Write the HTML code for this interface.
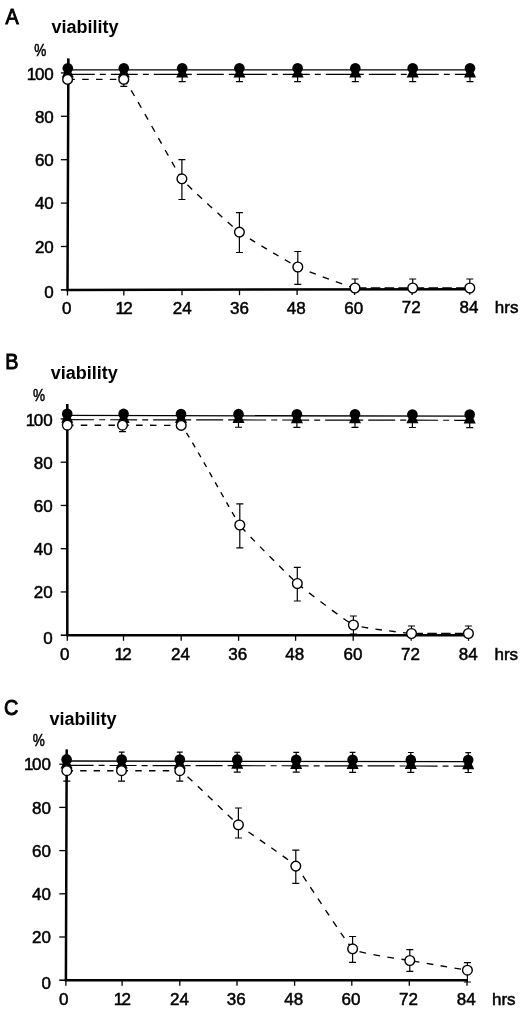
<!DOCTYPE html>
<html><head><meta charset="utf-8"><title>viability</title>
<style>
html,body{margin:0;padding:0;background:#fff;}
body{width:520px;height:1010px;overflow:hidden;font-family:"Liberation Sans", sans-serif;}
svg{display:block;filter:grayscale(1);}
text{font-family:"Liberation Sans", sans-serif;fill:#000;}
.n{font-size:17px;stroke:#000;stroke-width:0.5px;}
.v{font-size:18px;font-weight:bold;}
.L{font-size:22.5px;stroke:#000;stroke-width:1px;}
</style></head><body>
<svg width="520" height="1010" viewBox="0 0 520 1010">
<rect width="520" height="1010" fill="#fff"/>
<path d="M68.4 58.5L67.5 289.9L470.4 289.2" fill="none" stroke="#000" stroke-width="2.5" stroke-linejoin="miter"/>
<line x1="60.9" y1="246.5" x2="67.5" y2="246.5" stroke="#000" stroke-width="1.3"/>
<line x1="60.9" y1="203.1" x2="67.5" y2="203.1" stroke="#000" stroke-width="1.3"/>
<line x1="60.9" y1="159.7" x2="67.5" y2="159.7" stroke="#000" stroke-width="1.3"/>
<line x1="60.9" y1="116.3" x2="67.5" y2="116.3" stroke="#000" stroke-width="1.3"/>
<line x1="60.9" y1="72.9" x2="67.5" y2="72.9" stroke="#000" stroke-width="1.3"/>
<line x1="60.9" y1="289.9" x2="67.5" y2="289.9" stroke="#000" stroke-width="1.6"/>
<line x1="67.5" y1="289.9" x2="67.5" y2="295.5" stroke="#000" stroke-width="1.3"/>
<line x1="123.8" y1="289.8" x2="123.8" y2="295.4" stroke="#000" stroke-width="1.3"/>
<line x1="182" y1="289.7" x2="182" y2="295.3" stroke="#000" stroke-width="1.3"/>
<line x1="239.5" y1="289.6" x2="239.5" y2="295.2" stroke="#000" stroke-width="1.3"/>
<line x1="297.1" y1="289.5" x2="297.1" y2="295.1" stroke="#000" stroke-width="1.3"/>
<line x1="354.6" y1="289.4" x2="354.6" y2="295" stroke="#000" stroke-width="1.3"/>
<line x1="412.1" y1="289.3" x2="412.1" y2="294.9" stroke="#000" stroke-width="1.3"/>
<line x1="469.8" y1="289.2" x2="469.8" y2="294.8" stroke="#000" stroke-width="1.3"/>
<text class="n" x="53.8" y="298.4" text-anchor="end">0</text>
<text class="n" x="53.8" y="252.8" text-anchor="end">20</text>
<text class="n" x="53.8" y="209.4" text-anchor="end">40</text>
<text class="n" x="53.8" y="166" text-anchor="end">60</text>
<text class="n" x="53.8" y="122.6" text-anchor="end">80</text>
<text class="n" x="53.8" y="80" text-anchor="end">1<tspan dx="-1.4">00</tspan></text>
<text class="n" x="66.7" y="314" text-anchor="middle">0</text>
<text class="n" x="124.2" y="313.9" text-anchor="middle">1<tspan dx="-1.7">2</tspan></text>
<text class="n" x="182.2" y="313.8" text-anchor="middle">24</text>
<text class="n" x="239.5" y="313.7" text-anchor="middle">36</text>
<text class="n" x="296.3" y="313.6" text-anchor="middle">48</text>
<text class="n" x="353.8" y="313.5" text-anchor="middle">60</text>
<text class="n" x="411.3" y="313.4" text-anchor="middle">72</text>
<text class="n" x="469" y="313.3" text-anchor="middle">84</text>
<text class="n" x="494.8" y="313.3">hrs</text>
<text class="n" transform="translate(34.3 55.5) scale(0.8 1)">%</text>
<text class="v" x="51.5" y="33.2">viability</text>
<text class="L" transform="translate(5.4 23.6) scale(0.88 1)">A</text>
<line x1="67.8" y1="69.9" x2="470" y2="69.9" stroke="#000" stroke-width="1.3"/>
<line x1="67.8" y1="74.4" x2="470" y2="74.4" stroke="#000" stroke-width="1.2" stroke-dasharray="27 5 6 5" stroke-dashoffset="0"/>
<path d="M67.6 79.4L123.8 79.4" fill="none" stroke="#000" stroke-width="1.35" stroke-dasharray="6.5 7.3" stroke-dashoffset="13"/>
<path d="M123.8 79.4C129.51 84.37 176.12 171.17 181.9 178.8" fill="none" stroke="#000" stroke-width="1.35" stroke-dasharray="6.45 7.25" stroke-dashoffset="0.4"/>
<path d="M181.9 178.8C187.68 186.44 233.61 227.69 239.4 232.1" fill="none" stroke="#000" stroke-width="1.35" stroke-dasharray="6.41 7.19" stroke-dashoffset="5.2"/>
<path d="M239.4 232.1C245.19 236.51 292.02 264.2 297.8 267" fill="none" stroke="#000" stroke-width="1.35" stroke-dasharray="6.36 7.14" stroke-dashoffset="1"/>
<path d="M297.8 267C303.58 269.8 349.25 286.95 355 288" fill="none" stroke="#000" stroke-width="1.35" stroke-dasharray="6.55 7.35" stroke-dashoffset="1"/>
<path d="M355 288L412.7 288" fill="none" stroke="#000" stroke-width="1.35" stroke-dasharray="9.5 4.3" stroke-dashoffset="11.8"/>
<path d="M412.7 288L469.8 288" fill="none" stroke="#000" stroke-width="1.35" stroke-dasharray="9.5 4.3" stroke-dashoffset="11.8"/>
<path d="M182.2 74V81.7M178.7 81.7H185.7" fill="none" stroke="#000" stroke-width="1.2"/>
<path d="M239.4 74V81.7M235.9 81.7H242.9" fill="none" stroke="#000" stroke-width="1.2"/>
<path d="M297.6 74V81.7M294.1 81.7H301.1" fill="none" stroke="#000" stroke-width="1.2"/>
<path d="M355.3 74V81.7M351.8 81.7H358.8" fill="none" stroke="#000" stroke-width="1.2"/>
<path d="M412.7 74V81.7M409.2 81.7H416.2" fill="none" stroke="#000" stroke-width="1.2"/>
<path d="M470 74V81.7M466.5 81.7H473.5" fill="none" stroke="#000" stroke-width="1.2"/>
<path d="M67.8 64.4L73.8 77.5H61.8Z" fill="#000"/>
<path d="M123.8 64.4L129.8 77.5H117.8Z" fill="#000"/>
<path d="M182.2 64.4L188.2 77.5H176.2Z" fill="#000"/>
<path d="M239.4 64.4L245.4 77.5H233.4Z" fill="#000"/>
<path d="M297.6 64.4L303.6 77.5H291.6Z" fill="#000"/>
<path d="M355.3 64.4L361.3 77.5H349.3Z" fill="#000"/>
<path d="M412.7 64.4L418.7 77.5H406.7Z" fill="#000"/>
<path d="M470 64.4L476 77.5H464Z" fill="#000"/>
<path d="M67.8 58.5V70" fill="none" stroke="#000" stroke-width="1.2"/>
<circle cx="67.8" cy="68.3" r="5.3" fill="#000"/>
<circle cx="123.8" cy="68.3" r="5.3" fill="#000"/>
<circle cx="182.2" cy="68.3" r="5.3" fill="#000"/>
<circle cx="239.4" cy="68.3" r="5.3" fill="#000"/>
<circle cx="297.6" cy="68.3" r="5.3" fill="#000"/>
<circle cx="355.3" cy="68.3" r="5.3" fill="#000"/>
<circle cx="412.7" cy="68.3" r="5.3" fill="#000"/>
<circle cx="470" cy="68.3" r="5.3" fill="#000"/>
<path d="M123.8 79.4V86.3M120.3 79.4H127.3M120.3 86.3H127.3" fill="none" stroke="#000" stroke-width="1.2"/>
<path d="M181.9 159.7V199.5M178.4 159.7H185.4M178.4 199.5H185.4" fill="none" stroke="#000" stroke-width="1.2"/>
<path d="M239.4 212.7V252.5M235.9 212.7H242.9M235.9 252.5H242.9" fill="none" stroke="#000" stroke-width="1.2"/>
<path d="M297.8 251.5V284.3M294.3 251.5H301.3M294.3 284.3H301.3" fill="none" stroke="#000" stroke-width="1.2"/>
<path d="M355 279V290M351.5 279H358.5M351.5 290H358.5" fill="none" stroke="#000" stroke-width="1.2"/>
<path d="M412.7 279V290M409.2 279H416.2M409.2 290H416.2" fill="none" stroke="#000" stroke-width="1.2"/>
<path d="M469.8 279V290M466.3 279H473.3M466.3 290H473.3" fill="none" stroke="#000" stroke-width="1.2"/>
<circle cx="67.6" cy="79.4" r="4.85" fill="#fff" stroke="#000" stroke-width="1.4"/>
<circle cx="123.8" cy="79.4" r="4.85" fill="#fff" stroke="#000" stroke-width="1.4"/>
<circle cx="181.9" cy="178.8" r="4.85" fill="#fff" stroke="#000" stroke-width="1.4"/>
<circle cx="239.4" cy="232.1" r="4.85" fill="#fff" stroke="#000" stroke-width="1.4"/>
<circle cx="297.8" cy="267" r="4.85" fill="#fff" stroke="#000" stroke-width="1.4"/>
<circle cx="355" cy="288" r="4.85" fill="#fff" stroke="#000" stroke-width="1.4"/>
<circle cx="412.7" cy="288" r="4.85" fill="#fff" stroke="#000" stroke-width="1.4"/>
<circle cx="469.8" cy="288" r="4.85" fill="#fff" stroke="#000" stroke-width="1.4"/>
<path d="M67.3 404L67.3 635.2L469.1 635.2" fill="none" stroke="#000" stroke-width="2.5" stroke-linejoin="miter"/>
<line x1="60.7" y1="591.95" x2="67.3" y2="591.95" stroke="#000" stroke-width="1.3"/>
<line x1="60.7" y1="548.7" x2="67.3" y2="548.7" stroke="#000" stroke-width="1.3"/>
<line x1="60.7" y1="505.45" x2="67.3" y2="505.45" stroke="#000" stroke-width="1.3"/>
<line x1="60.7" y1="462.2" x2="67.3" y2="462.2" stroke="#000" stroke-width="1.3"/>
<line x1="60.7" y1="418.95" x2="67.3" y2="418.95" stroke="#000" stroke-width="1.3"/>
<line x1="60.7" y1="635.2" x2="67.3" y2="635.2" stroke="#000" stroke-width="1.6"/>
<line x1="67.3" y1="635.2" x2="67.3" y2="640.8" stroke="#000" stroke-width="1.3"/>
<line x1="123.5" y1="635.2" x2="123.5" y2="640.8" stroke="#000" stroke-width="1.3"/>
<line x1="181.2" y1="635.2" x2="181.2" y2="640.8" stroke="#000" stroke-width="1.3"/>
<line x1="238.6" y1="635.2" x2="238.6" y2="640.8" stroke="#000" stroke-width="1.3"/>
<line x1="295.6" y1="635.2" x2="295.6" y2="640.8" stroke="#000" stroke-width="1.3"/>
<line x1="353.2" y1="635.2" x2="353.2" y2="640.8" stroke="#000" stroke-width="1.3"/>
<line x1="411.2" y1="635.2" x2="411.2" y2="640.8" stroke="#000" stroke-width="1.3"/>
<line x1="468.5" y1="635.2" x2="468.5" y2="640.8" stroke="#000" stroke-width="1.3"/>
<text class="n" x="52.7" y="643.7" text-anchor="end">0</text>
<text class="n" x="52.7" y="598.25" text-anchor="end">20</text>
<text class="n" x="52.7" y="555" text-anchor="end">40</text>
<text class="n" x="52.7" y="511.75" text-anchor="end">60</text>
<text class="n" x="52.7" y="468.5" text-anchor="end">80</text>
<text class="n" x="52.7" y="426.05" text-anchor="end">1<tspan dx="-1.4">00</tspan></text>
<text class="n" x="64.8" y="660" text-anchor="middle">0</text>
<text class="n" x="123.2" y="660" text-anchor="middle">1<tspan dx="-1.7">2</tspan></text>
<text class="n" x="180.4" y="660" text-anchor="middle">24</text>
<text class="n" x="237.8" y="660" text-anchor="middle">36</text>
<text class="n" x="294.8" y="660" text-anchor="middle">48</text>
<text class="n" x="352.9" y="660" text-anchor="middle">60</text>
<text class="n" x="410.4" y="660" text-anchor="middle">72</text>
<text class="n" x="468.2" y="660" text-anchor="middle">84</text>
<text class="n" x="494.5" y="660">hrs</text>
<text class="n" transform="translate(33.1 401.4) scale(0.8 1)">%</text>
<text class="v" x="50.8" y="379.2">viability</text>
<text class="L" transform="translate(5.2 369.4) scale(0.88 1)">B</text>
<line x1="67.2" y1="415.4" x2="469.7" y2="416.2" stroke="#000" stroke-width="1.3"/>
<line x1="67.2" y1="419.7" x2="469.7" y2="420.3" stroke="#000" stroke-width="1.2" stroke-dasharray="27 5 6 5" stroke-dashoffset="0"/>
<path d="M67.3 425.2L122.5 425.2" fill="none" stroke="#000" stroke-width="1.35" stroke-dasharray="6.5 7.3" stroke-dashoffset="0.3"/>
<path d="M122.5 425.2L181.2 425.4" fill="none" stroke="#000" stroke-width="1.35" stroke-dasharray="6.55 7.35" stroke-dashoffset="0.3"/>
<path d="M181.2 425.4C187.06 430.39 234 517.1 239.8 525" fill="none" stroke="#000" stroke-width="1.35" stroke-dasharray="5.37 6.03" stroke-dashoffset="2.1"/>
<path d="M239.8 525C245.61 532.9 291.62 578.5 297.3 583.5" fill="none" stroke="#000" stroke-width="1.35" stroke-dasharray="6.36 7.14" stroke-dashoffset="10.9"/>
<path d="M297.3 583.5C302.98 588.5 347.69 622.5 353.4 625" fill="none" stroke="#000" stroke-width="1.35" stroke-dasharray="6.69 7.51" stroke-dashoffset="13.2"/>
<path d="M353.4 625C359.11 627.5 405.75 633.08 411.5 633.5" fill="none" stroke="#000" stroke-width="1.35" stroke-dasharray="6.48 7.27" stroke-dashoffset="5"/>
<path d="M411.5 633.5L468.4 633.5" fill="none" stroke="#000" stroke-width="1.35" stroke-dasharray="9.5 4.3" stroke-dashoffset="11.8"/>
<path d="M181 419.17V427.17M177.5 427.17H184.5" fill="none" stroke="#000" stroke-width="1.2"/>
<path d="M238.5 419.26V427.26M235 427.26H242" fill="none" stroke="#000" stroke-width="1.2"/>
<path d="M296.9 419.34V427.34M293.4 427.34H300.4" fill="none" stroke="#000" stroke-width="1.2"/>
<path d="M355 419.43V427.43M351.5 427.43H358.5" fill="none" stroke="#000" stroke-width="1.2"/>
<path d="M412.4 419.51V427.51M408.9 427.51H415.9" fill="none" stroke="#000" stroke-width="1.2"/>
<path d="M469.7 419.6V427.6M466.2 427.6H473.2" fill="none" stroke="#000" stroke-width="1.2"/>
<path d="M67.2 409.7L73.2 422.8H61.2Z" fill="#000"/>
<path d="M123.6 409.78L129.6 422.88H117.6Z" fill="#000"/>
<path d="M181 409.87L187 422.97H175Z" fill="#000"/>
<path d="M238.5 409.96L244.5 423.06H232.5Z" fill="#000"/>
<path d="M296.9 410.04L302.9 423.14H290.9Z" fill="#000"/>
<path d="M355 410.13L361 423.23H349Z" fill="#000"/>
<path d="M412.4 410.21L418.4 423.31H406.4Z" fill="#000"/>
<path d="M469.7 410.3L475.7 423.4H463.7Z" fill="#000"/>
<path d="M67.2 404V415" fill="none" stroke="#000" stroke-width="1.2"/>
<circle cx="67.2" cy="413.8" r="5.3" fill="#000"/>
<circle cx="123.6" cy="413.91" r="5.3" fill="#000"/>
<circle cx="181" cy="414.03" r="5.3" fill="#000"/>
<circle cx="238.5" cy="414.14" r="5.3" fill="#000"/>
<circle cx="296.9" cy="414.26" r="5.3" fill="#000"/>
<circle cx="355" cy="414.37" r="5.3" fill="#000"/>
<circle cx="412.4" cy="414.49" r="5.3" fill="#000"/>
<circle cx="469.7" cy="414.6" r="5.3" fill="#000"/>
<path d="M122.5 425V431.7M119 425H126M119 431.7H126" fill="none" stroke="#000" stroke-width="1.2"/>
<path d="M239.8 503.8V547.9M236.3 503.8H243.3M236.3 547.9H243.3" fill="none" stroke="#000" stroke-width="1.2"/>
<path d="M297.3 567.4V601M293.8 567.4H300.8M293.8 601H300.8" fill="none" stroke="#000" stroke-width="1.2"/>
<path d="M353.4 616V634M349.9 616H356.9M349.9 634H356.9" fill="none" stroke="#000" stroke-width="1.2"/>
<path d="M411.5 626V635M408 626H415M408 635H415" fill="none" stroke="#000" stroke-width="1.2"/>
<path d="M468.4 626V635M464.9 626H471.9M464.9 635H471.9" fill="none" stroke="#000" stroke-width="1.2"/>
<circle cx="67.3" cy="425.2" r="4.85" fill="#fff" stroke="#000" stroke-width="1.4"/>
<circle cx="122.5" cy="425.2" r="4.85" fill="#fff" stroke="#000" stroke-width="1.4"/>
<circle cx="181.2" cy="425.4" r="4.85" fill="#fff" stroke="#000" stroke-width="1.4"/>
<circle cx="239.8" cy="525" r="4.85" fill="#fff" stroke="#000" stroke-width="1.4"/>
<circle cx="297.3" cy="583.5" r="4.85" fill="#fff" stroke="#000" stroke-width="1.4"/>
<circle cx="353.4" cy="625" r="4.85" fill="#fff" stroke="#000" stroke-width="1.4"/>
<circle cx="411.5" cy="633.5" r="4.85" fill="#fff" stroke="#000" stroke-width="1.4"/>
<circle cx="468.4" cy="633.5" r="4.85" fill="#fff" stroke="#000" stroke-width="1.4"/>
<path d="M66.7 749.5L65.9 980.2L467.6 980.2" fill="none" stroke="#000" stroke-width="2.5" stroke-linejoin="miter"/>
<line x1="59.3" y1="937" x2="65.9" y2="937" stroke="#000" stroke-width="1.3"/>
<line x1="59.3" y1="893.8" x2="65.9" y2="893.8" stroke="#000" stroke-width="1.3"/>
<line x1="59.3" y1="850.6" x2="65.9" y2="850.6" stroke="#000" stroke-width="1.3"/>
<line x1="59.3" y1="807.4" x2="65.9" y2="807.4" stroke="#000" stroke-width="1.3"/>
<line x1="59.3" y1="764.2" x2="65.9" y2="764.2" stroke="#000" stroke-width="1.3"/>
<line x1="59.3" y1="980.2" x2="65.9" y2="980.2" stroke="#000" stroke-width="1.6"/>
<line x1="65.9" y1="980.2" x2="65.9" y2="985.8" stroke="#000" stroke-width="1.3"/>
<line x1="122.1" y1="980.2" x2="122.1" y2="985.8" stroke="#000" stroke-width="1.3"/>
<line x1="179.8" y1="980.2" x2="179.8" y2="985.8" stroke="#000" stroke-width="1.3"/>
<line x1="237" y1="980.2" x2="237" y2="985.8" stroke="#000" stroke-width="1.3"/>
<line x1="294.6" y1="980.2" x2="294.6" y2="985.8" stroke="#000" stroke-width="1.3"/>
<line x1="351.8" y1="980.2" x2="351.8" y2="985.8" stroke="#000" stroke-width="1.3"/>
<line x1="409.3" y1="980.2" x2="409.3" y2="985.8" stroke="#000" stroke-width="1.3"/>
<line x1="467" y1="980.2" x2="467" y2="985.8" stroke="#000" stroke-width="1.3"/>
<text class="n" x="51" y="988.7" text-anchor="end">0</text>
<text class="n" x="51" y="943.3" text-anchor="end">20</text>
<text class="n" x="51" y="900.1" text-anchor="end">40</text>
<text class="n" x="51" y="856.9" text-anchor="end">60</text>
<text class="n" x="51" y="813.7" text-anchor="end">80</text>
<text class="n" x="51" y="770.2" text-anchor="end">1<tspan dx="-1.4">00</tspan></text>
<text class="n" x="63.8" y="1005" text-anchor="middle">0</text>
<text class="n" x="122.3" y="1005" text-anchor="middle">1<tspan dx="-1.7">2</tspan></text>
<text class="n" x="179.5" y="1005" text-anchor="middle">24</text>
<text class="n" x="236.2" y="1005" text-anchor="middle">36</text>
<text class="n" x="293.8" y="1005" text-anchor="middle">48</text>
<text class="n" x="351" y="1005" text-anchor="middle">60</text>
<text class="n" x="408.5" y="1005" text-anchor="middle">72</text>
<text class="n" x="466.2" y="1005" text-anchor="middle">84</text>
<text class="n" x="492" y="1005">hrs</text>
<text class="n" transform="translate(32.7 745.8) scale(0.8 1)">%</text>
<text class="v" x="49.6" y="725.4">viability</text>
<text class="L" transform="translate(4 715) scale(0.88 1)">C</text>
<line x1="66.6" y1="761" x2="468.2" y2="761.6" stroke="#000" stroke-width="1.3"/>
<line x1="66.6" y1="765.4" x2="468.2" y2="766.1" stroke="#000" stroke-width="1.2" stroke-dasharray="27 5 6 5" stroke-dashoffset="0"/>
<path d="M66.8 770.7L121.5 770.7" fill="none" stroke="#000" stroke-width="1.35" stroke-dasharray="6.34 7.11" stroke-dashoffset="0.05"/>
<path d="M121.5 770.7L179.8 770.7" fill="none" stroke="#000" stroke-width="1.35" stroke-dasharray="6.48 7.27" stroke-dashoffset="0"/>
<path d="M179.8 770.7C185.65 773.41 232.6 820.03 238.4 824.8" fill="none" stroke="#000" stroke-width="1.35" stroke-dasharray="6.45 7.25" stroke-dashoffset="3.4"/>
<path d="M238.4 824.8C244.2 829.57 290.09 859.9 295.8 866.1" fill="none" stroke="#000" stroke-width="1.35" stroke-dasharray="6.5 7.3" stroke-dashoffset="1.3"/>
<path d="M295.8 866.1C301.51 872.3 346.9 944.08 352.6 948.8" fill="none" stroke="#000" stroke-width="1.35" stroke-dasharray="6.41 7.19" stroke-dashoffset="1.4"/>
<path d="M352.6 948.8C358.3 953.52 404.06 959.43 409.8 960.5" fill="none" stroke="#000" stroke-width="1.35" stroke-dasharray="6.62 7.43" stroke-dashoffset="6.35"/>
<path d="M409.8 960.5C415.54 961.57 464.52 969.72 467.4 970.2" fill="none" stroke="#000" stroke-width="1.35" stroke-dasharray="6.55 7.35" stroke-dashoffset="10.5"/>
<path d="M179.8 765.2V772M176.3 772H183.3" fill="none" stroke="#000" stroke-width="1.2"/>
<path d="M237.2 765.3V772.1M233.7 772.1H240.7" fill="none" stroke="#000" stroke-width="1.2"/>
<path d="M296.2 765.4V772.2M292.7 772.2H299.7" fill="none" stroke="#000" stroke-width="1.2"/>
<path d="M352.6 765.5V772.3M349.1 772.3H356.1" fill="none" stroke="#000" stroke-width="1.2"/>
<path d="M410.8 765.6V772.4M407.3 772.4H414.3" fill="none" stroke="#000" stroke-width="1.2"/>
<path d="M468.2 765.7V772.5M464.7 772.5H471.7" fill="none" stroke="#000" stroke-width="1.2"/>
<path d="M66.6 755.4L72.6 768.5H60.6Z" fill="#000"/>
<path d="M121.7 755.5L127.7 768.6H115.7Z" fill="#000"/>
<path d="M179.8 755.6L185.8 768.7H173.8Z" fill="#000"/>
<path d="M237.2 755.7L243.2 768.8H231.2Z" fill="#000"/>
<path d="M296.2 755.8L302.2 768.9H290.2Z" fill="#000"/>
<path d="M352.6 755.9L358.6 769H346.6Z" fill="#000"/>
<path d="M410.8 756L416.8 769.1H404.8Z" fill="#000"/>
<path d="M468.2 756.1L474.2 769.2H462.2Z" fill="#000"/>
<path d="M66.6 749.5V761" fill="none" stroke="#000" stroke-width="1.2"/>
<circle cx="66.6" cy="759.4" r="5.3" fill="#000"/>
<path d="M121.7 752.08V770.08M118.8 752.08H124.6" fill="none" stroke="#000" stroke-width="1.2"/>
<circle cx="121.7" cy="759.48" r="5.3" fill="#000"/>
<path d="M179.8 752.17V770.17M176.9 752.17H182.7" fill="none" stroke="#000" stroke-width="1.2"/>
<circle cx="179.8" cy="759.57" r="5.3" fill="#000"/>
<path d="M237.2 752.25V770.25M234.3 752.25H240.1" fill="none" stroke="#000" stroke-width="1.2"/>
<circle cx="237.2" cy="759.65" r="5.3" fill="#000"/>
<path d="M296.2 752.34V770.34M293.3 752.34H299.1" fill="none" stroke="#000" stroke-width="1.2"/>
<circle cx="296.2" cy="759.74" r="5.3" fill="#000"/>
<path d="M352.6 752.43V770.43M349.7 752.43H355.5" fill="none" stroke="#000" stroke-width="1.2"/>
<circle cx="352.6" cy="759.83" r="5.3" fill="#000"/>
<path d="M410.8 752.51V770.51M407.9 752.51H413.7" fill="none" stroke="#000" stroke-width="1.2"/>
<circle cx="410.8" cy="759.91" r="5.3" fill="#000"/>
<path d="M468.2 752.6V770.6M465.3 752.6H471.1" fill="none" stroke="#000" stroke-width="1.2"/>
<circle cx="468.2" cy="760" r="5.3" fill="#000"/>
<path d="M66.8 762V781.2M63.3 762H70.3M63.3 781.2H70.3" fill="none" stroke="#000" stroke-width="1.2"/>
<path d="M121.5 762V781.2M118 762H125M118 781.2H125" fill="none" stroke="#000" stroke-width="1.2"/>
<path d="M179.8 762V781.2M176.3 762H183.3M176.3 781.2H183.3" fill="none" stroke="#000" stroke-width="1.2"/>
<path d="M238.4 808V838M234.9 808H241.9M234.9 838H241.9" fill="none" stroke="#000" stroke-width="1.2"/>
<path d="M295.8 850.2V883.3M292.3 850.2H299.3M292.3 883.3H299.3" fill="none" stroke="#000" stroke-width="1.2"/>
<path d="M352.6 936.5V962.3M349.1 936.5H356.1M349.1 962.3H356.1" fill="none" stroke="#000" stroke-width="1.2"/>
<path d="M409.8 949.6V971.4M406.3 949.6H413.3M406.3 971.4H413.3" fill="none" stroke="#000" stroke-width="1.2"/>
<path d="M467.4 962.6V982M463.9 962.6H470.9M463.9 982H470.9" fill="none" stroke="#000" stroke-width="1.2"/>
<circle cx="66.8" cy="770.7" r="4.85" fill="#fff" stroke="#000" stroke-width="1.4"/>
<circle cx="121.5" cy="770.7" r="4.85" fill="#fff" stroke="#000" stroke-width="1.4"/>
<circle cx="179.8" cy="770.7" r="4.85" fill="#fff" stroke="#000" stroke-width="1.4"/>
<circle cx="238.4" cy="824.8" r="4.85" fill="#fff" stroke="#000" stroke-width="1.4"/>
<circle cx="295.8" cy="866.1" r="4.85" fill="#fff" stroke="#000" stroke-width="1.4"/>
<circle cx="352.6" cy="948.8" r="4.85" fill="#fff" stroke="#000" stroke-width="1.4"/>
<circle cx="409.8" cy="960.5" r="4.85" fill="#fff" stroke="#000" stroke-width="1.4"/>
<circle cx="467.4" cy="970.2" r="4.85" fill="#fff" stroke="#000" stroke-width="1.4"/>
</svg>
</body></html>
